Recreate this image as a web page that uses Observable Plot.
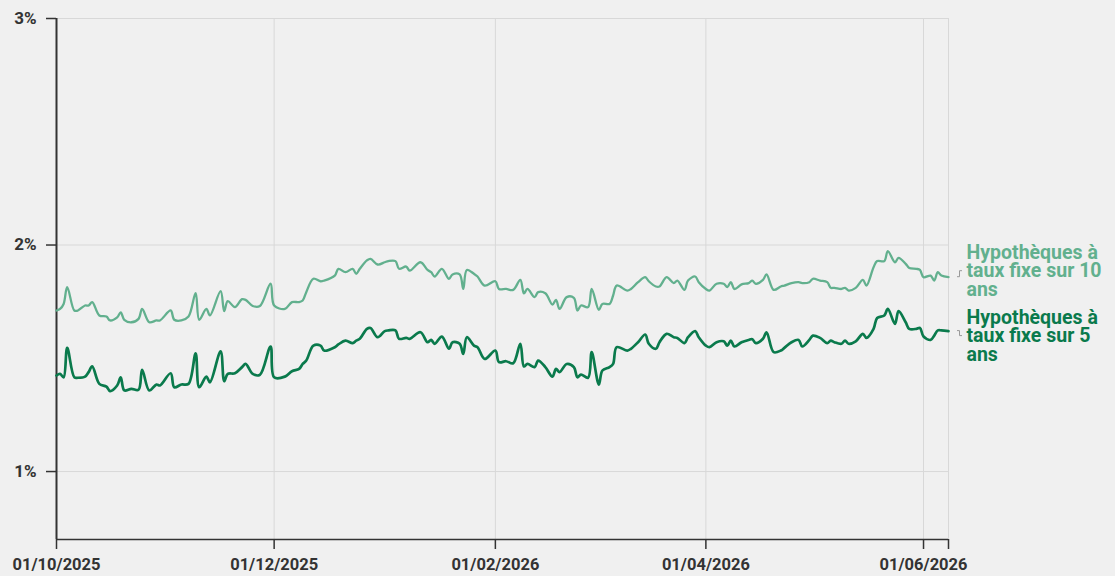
<!DOCTYPE html>
<html><head><meta charset="utf-8">
<script src="https://cdn.jsdelivr.net/npm/d3@7"></script>
<script src="https://cdn.jsdelivr.net/npm/@observablehq/plot@0.6"></script>
<style>
html,body{margin:0;padding:0;background:#f0f0f0;}
#chart{width:1115px;height:576px;}
</style></head><body><div id="chart"></div>
<script>
const dates = [
"2025-10-01","2025-10-02","2025-10-03","2025-10-04","2025-10-06","2025-10-07","2025-10-09","2025-10-10","2025-10-11","2025-10-13",
"2025-10-15","2025-10-16","2025-10-18","2025-10-19","2025-10-20","2025-10-22","2025-10-24","2025-10-25","2025-10-27","2025-10-29",
"2025-10-30","2025-11-02","2025-11-03","2025-11-05","2025-11-07","2025-11-09","2025-11-10","2025-11-12","2025-11-13","2025-11-16",
"2025-11-17","2025-11-18","2025-11-20","2025-11-22","2025-11-23","2025-11-25","2025-11-27","2025-11-30","2025-12-01","2025-12-04",
"2025-12-06","2025-12-08","2025-12-09","2025-12-10","2025-12-12","2025-12-14","2025-12-15","2025-12-18","2025-12-19","2025-12-21",
"2025-12-23","2025-12-24","2025-12-25",
"2025-12-27","2025-12-28","2025-12-30","2026-01-01","2026-01-02","2026-01-04","2026-01-05","2026-01-07","2026-01-08","2026-01-11",
"2026-01-13","2026-01-14","2026-01-15","2026-01-17","2026-01-19","2026-01-20","2026-01-22","2026-01-23","2026-01-24","2026-01-26",
"2026-01-27","2026-01-29","2026-02-01","2026-02-02","2026-02-04","2026-02-06","2026-02-08","2026-02-09","2026-02-10","2026-02-12",
"2026-02-13","2026-02-15","2026-02-17","2026-02-18","2026-02-19","2026-02-21","2026-02-23","2026-02-24","2026-02-25","2026-02-27",
"2026-02-28","2026-03-02","2026-03-03","2026-03-05","2026-03-06","2026-03-07","2026-03-10","2026-03-11","2026-03-13","2026-03-15",
"2026-03-16","2026-03-18","2026-03-19",
"2026-03-21","2026-03-23","2026-03-24","2026-03-26","2026-03-27","2026-03-29","2026-03-30","2026-04-01","2026-04-02","2026-04-04",
"2026-04-06","2026-04-07","2026-04-08","2026-04-09","2026-04-11","2026-04-13","2026-04-14","2026-04-15","2026-04-17","2026-04-18",
"2026-04-20","2026-04-22","2026-04-23","2026-04-25","2026-04-27","2026-04-28","2026-04-30","2026-05-01","2026-05-03","2026-05-05",
"2026-05-06","2026-05-07","2026-05-09","2026-05-10","2026-05-11","2026-05-13","2026-05-15","2026-05-16","2026-05-18","2026-05-19",
"2026-05-21","2026-05-22","2026-05-24","2026-05-25","2026-05-27","2026-05-28","2026-05-30","2026-05-31","2026-06-01","2026-06-03",
"2026-06-04","2026-06-05","2026-06-06","2026-06-08"
];
const rate10 = [
1.711,1.718,1.740,1.814,1.711,1.711,1.733,1.733,1.748,1.689,
1.684,1.667,1.681,1.703,1.670,1.659,1.674,1.718,1.659,1.667,
1.667,1.711,1.670,1.667,1.684,1.787,1.670,1.718,1.689,1.796,
1.708,1.752,1.726,1.761,1.758,1.731,1.731,1.829,1.733,1.718,
1.748,1.748,1.755,1.792,1.851,1.840,1.843,1.865,1.895,1.880,
1.895,1.873,1.895,
1.932,1.939,1.914,1.924,1.929,1.929,1.895,1.905,1.887,1.924,
1.890,1.880,1.861,1.895,1.851,1.870,1.870,1.806,1.890,1.873,
1.861,1.821,1.840,1.806,1.806,1.802,1.846,1.787,1.806,1.770,
1.792,1.787,1.737,1.758,1.718,1.770,1.767,1.711,1.733,1.726,
1.806,1.714,1.740,1.740,1.777,1.821,1.799,1.806,1.836,1.858,
1.840,1.817,1.817,
1.858,1.832,1.843,1.802,1.843,1.861,1.836,1.806,1.799,1.829,
1.829,1.814,1.836,1.806,1.826,1.832,1.843,1.829,1.846,1.870,
1.802,1.817,1.821,1.832,1.836,1.832,1.836,1.851,1.843,1.836,
1.811,1.811,1.806,1.811,1.799,1.811,1.846,1.821,1.902,1.929,
1.929,1.973,1.924,1.943,1.917,1.899,1.895,1.890,1.858,1.865,
1.843,1.880,1.865,1.858
];
const rate5 = [
1.424,1.431,1.416,1.546,1.416,1.414,1.419,1.439,1.464,1.387,
1.375,1.355,1.380,1.416,1.358,1.365,1.361,1.449,1.358,1.384,
1.380,1.434,1.372,1.384,1.387,1.522,1.372,1.419,1.394,1.531,
1.399,1.431,1.434,1.461,1.475,1.431,1.427,1.552,1.416,1.419,
1.443,1.453,1.475,1.490,1.556,1.556,1.534,1.549,1.561,1.578,
1.567,1.578,1.586,
1.630,1.634,1.593,1.620,1.623,1.623,1.586,1.590,1.586,1.615,
1.571,1.581,1.564,1.596,1.542,1.571,1.564,1.519,1.593,1.556,
1.549,1.497,1.534,1.483,1.487,1.478,1.564,1.464,1.475,1.461,
1.490,1.461,1.419,1.453,1.439,1.475,1.461,1.416,1.428,1.414,
1.527,1.384,1.446,1.461,1.475,1.549,1.534,1.542,1.571,1.605,
1.564,1.542,1.571,
1.608,1.593,1.590,1.567,1.593,1.620,1.593,1.556,1.549,1.571,
1.575,1.556,1.578,1.552,1.571,1.581,1.584,1.567,1.586,1.615,
1.527,1.534,1.546,1.571,1.581,1.552,1.581,1.600,1.590,1.567,
1.578,1.571,1.564,1.578,1.564,1.575,1.608,1.590,1.630,1.678,
1.689,1.718,1.652,1.708,1.659,1.630,1.630,1.634,1.596,1.581,
1.600,1.623,1.623,1.620
];
const seriesNames = ["Hypothèques à\ntaux fixe sur 10\nans", "Hypothèques à\ntaux fixe sur 5\nans"];
const seriesColors = ["#62b08e", "#0a7a4c"];
const xTickDates = ["2025-10-01","2025-12-01","2026-02-01","2026-04-01","2026-06-01","2026-06-08"];
const yTicks = [1, 2, 3];

const parse = d3.utcParse("%Y-%m-%d");
const fmt = d3.utcFormat("%d/%m/%Y");
const xTicks = xTickDates.map(parse);
const firstDate = parse(dates[0]);
const lastDate = parse(dates[dates.length - 1]);
const rows10 = dates.map((d, i) => ({date: parse(d), value: rate10[i]}));
const rows5 = dates.map((d, i) => ({date: parse(d), value: rate5[i]}));
const ends = [
  {date: lastDate, value: rate10[rate10.length - 1], name: seriesNames[0], color: seriesColors[0], dy: -6},
  {date: lastDate, value: rate5[rate5.length - 1], name: seriesNames[1], color: seriesColors[1], dy: 5}
];

const labelStyle = {x: "date", y: "value", text: "name", fill: "color", dx: 18,
  textAnchor: "start", lineAnchor: "middle", lineHeight: 0.95, fontSize: 19.5, fontWeight: "bold"};

const plot = Plot.plot({
  width: 1115, height: 576,
  marginLeft: 56, marginRight: 167, marginTop: 18, marginBottom: 37,
  style: {background: "transparent", fontFamily: "Roboto, sans-serif", overflow: "visible"},
  x: {type: "utc", domain: [firstDate, lastDate]},
  y: {domain: [0.7, 3]},
  marks: [
    Plot.gridX(xTicks, {stroke: "#d8d8d8", strokeOpacity: 1, strokeWidth: 1}),
    Plot.gridY(yTicks, {stroke: "#d8d8d8", strokeOpacity: 1, strokeWidth: 1}),
    Plot.axisX(xTicks, {tickFormat: d => (+d === +lastDate ? "" : fmt(d)), tickSize: 10, tickPadding: 9,
      fontSize: 16.5, fontWeight: "bold", fill: "#333", stroke: "#333", strokeWidth: 1.5, label: null}),
    Plot.axisY(yTicks, {tickFormat: d => d + "%", tickSize: 10, tickPadding: 10,
      fontSize: 17, fontWeight: "bold", fill: "#333", stroke: "#333", strokeWidth: 1.5, label: null}),
    Plot.ruleX([firstDate], {stroke: "#333", strokeWidth: 2}),
    Plot.ruleY([0.7], {stroke: "#333", strokeWidth: 1.5}),
    Plot.line(rows10, {x: "date", y: "value", stroke: seriesColors[0], strokeWidth: 2.3, curve: "catmull-rom"}),
    Plot.line(rows5, {x: "date", y: "value", stroke: seriesColors[1], strokeWidth: 2.7, curve: "catmull-rom"}),
    Plot.text([ends[0]], {...labelStyle, dy: ends[0].dy}),
    Plot.text([ends[1]], {...labelStyle, dy: ends[1].dy})
  ]
});

const sx = plot.scale("x"), sy = plot.scale("y");
const svg = d3.select(plot);
ends.forEach(e => {
  const x0 = sx.apply(e.date) + 9, x1 = x0 + 5;
  const y0 = sy.apply(e.value), y1 = y0 + e.dy;
  svg.append("path")
    .attr("d", `M${x0},${y0}H${(x0 + x1) / 2}V${y1}H${x1}`)
    .attr("fill", "none").attr("stroke", "#999").attr("stroke-width", 1);
});
document.getElementById("chart").appendChild(plot);
</script></body></html>
